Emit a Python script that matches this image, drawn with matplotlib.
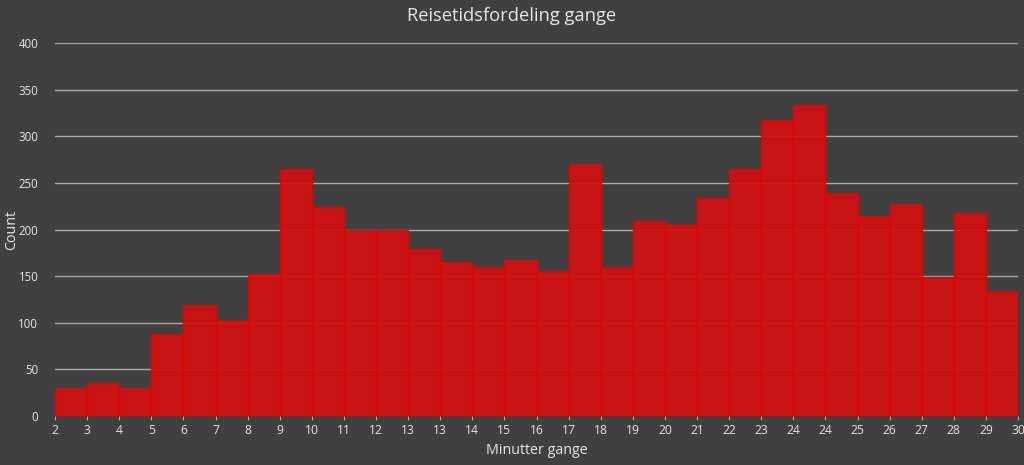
import matplotlib
matplotlib.use("Agg")
import matplotlib.pyplot as plt
import numpy as np

edge_labels = ["2", "3", "4", "5", "6", "7", "8", "9", "10", "11", "12", "13", "13",
               "14", "15", "16", "17", "18", "19", "20", "21", "22", "23", "24", "24",
               "25", "26", "27", "28", "29", "30"]
counts = [30, 35, 30, 88, 119, 103, 152, 265, 224, 200, 199, 179, 165, 160, 167, 156,
          270, 160, 209, 206, 234, 265, 317, 333, 239, 215, 227, 149, 218, 134]
yticks = [0, 50, 100, 150, 200, 250, 300, 350, 400]

bg = "#404040"
txt = "#e6e6e6"
plt.rcParams['font.family'] = ['Open Sans', 'DejaVu Sans']

fig = plt.figure(figsize=(10.24, 4.65), dpi=100, facecolor=bg)
ax = fig.add_axes([55/1024, 1 - 416/465, (1018 - 55)/1024, (416 - 43)/465])
ax.set_facecolor(bg)

x = np.arange(len(counts))
ax.bar(x, counts, width=1.0, align='edge', color=(0.83, 0.06, 0.06), alpha=0.92,
       edgecolor='#e80000', linewidth=1.0, zorder=2)

ax.set_xlim(0, len(counts))
ax.set_ylim(0, 400)
ax.set_yticks(yticks)
ax.set_xticks(np.arange(len(edge_labels)))
ax.set_xticklabels(edge_labels)
ax.grid(axis='y', color='#a8a8a8', linewidth=1.0, zorder=1)
ax.set_axisbelow(True)
for s in ax.spines.values():
    s.set_visible(False)
ax.tick_params(axis='y', length=0, colors=txt, labelsize=8.3, pad=12)
ax.tick_params(axis='x', length=3, color='#a8a8a8', colors=txt, labelsize=8.7, pad=3)
ax.set_xlabel("Minutter gange", color=txt, fontsize=10.3, labelpad=4)
ax.set_ylabel("Count", color=txt, fontsize=10.3)
ax.yaxis.set_label_coords((19 - 55) / (1018 - 55), 0.5)
fig.text(0.5, 1 - 16/465, "Reisetidsfordeling gange", color=txt, fontsize=13.2,
         ha='center', va='center')

fig.savefig("out.png", dpi=100, facecolor=bg)
